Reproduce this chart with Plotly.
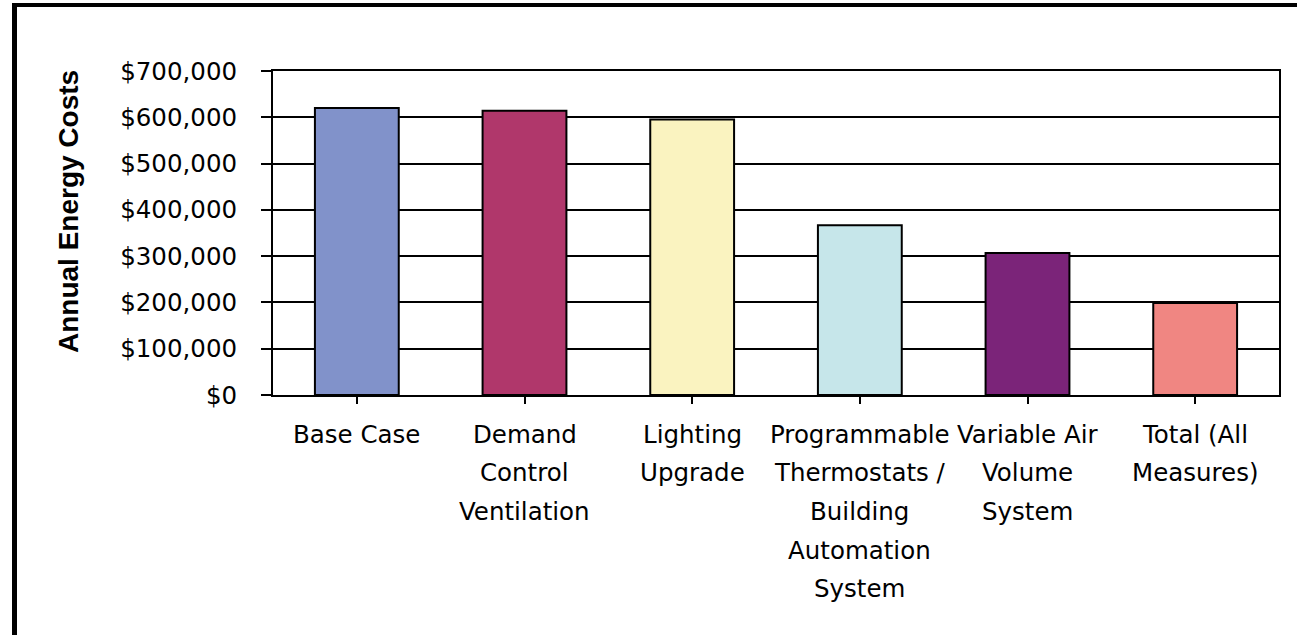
import plotly.graph_objects as go

categories = [
    "Base Case",
    "Demand<br>Control<br>Ventilation",
    "Lighting<br>Upgrade",
    "Programmable<br>Thermostats /<br>Building<br>Automation<br>System",
    "Variable Air<br>Volume<br>System",
    "Total (All<br>Measures)",
]
costs = [620000, 614000, 595000, 367000, 307000, 199000]
bar_colors = ["#8192CA", "#B0376B", "#FAF3C0", "#C6E6EA", "#7B2479", "#F08682"]
tick_values = [0, 100000, 200000, 300000, 400000, 500000, 600000, 700000]
tick_labels = ["$0", "$100,000", "$200,000", "$300,000", "$400,000", "$500,000", "$600,000", "$700,000"]
y_title = "Annual Energy Costs"

W, H = 1297, 635
ML, MR, MT, MB = 273, 18, 71, 240
PW, PH = W - ML - MR, H - MT - MB

fig = go.Figure()
fig.add_trace(go.Bar(
    x=list(range(len(categories))),
    y=costs,
    marker=dict(color=bar_colors, line=dict(color="black", width=2)),
    width=0.5,
    hoverinfo="skip",
))

# category labels as multi-line annotations (wide line spacing like the original)
line_gap = 38.7
annotations = []
for i, cat in enumerate(categories):
    for j, line in enumerate(cat.split("<br>")):
        annotations.append(dict(
            x=i, y=0, xref="x", yref="y", text=line, showarrow=False,
            xanchor="center", yanchor="middle", yshift=-39 - j * line_gap,
            font=dict(family="DejaVu Sans", size=24.5, color="black"),
        ))

def px_x(p):
    return (p - ML) / PW

def px_y(p):
    return (MT + PH - p) / PH

annotations.append(dict(
    x=px_x(68), y=px_y(212), xref="paper", yref="paper", text=y_title,
    showarrow=False, textangle=-90, xanchor="center", yanchor="middle",
    font=dict(family="Liberation Sans", size=28, color="black", weight="bold"),
))

shapes = [
    dict(type="line", xref="paper", yref="paper", x0=px_x(14.5), x1=px_x(14.5),
         y0=px_y(3), y1=px_y(H + 5), line=dict(color="black", width=5)),
    dict(type="line", xref="paper", yref="paper", x0=px_x(12), x1=px_x(W + 5),
         y0=px_y(5), y1=px_y(5), line=dict(color="black", width=4)),
]

fig.update_layout(
    width=W, height=H,
    margin=dict(l=ML, r=MR, t=MT, b=MB, autoexpand=False),
    paper_bgcolor="white", plot_bgcolor="white",
    showlegend=False,
    annotations=annotations,
    shapes=shapes,
    font=dict(family="DejaVu Sans", size=24.5, color="black"),
)
fig.update_xaxes(
    range=[-0.5, len(categories) - 0.5],
    tickvals=list(range(len(categories))),
    showticklabels=False,
    ticks="outside", tickson="boundaries", ticklen=7, tickwidth=2, tickcolor="black",
    showline=True, linecolor="black", linewidth=2, mirror=True,
    showgrid=False, zeroline=False,
)
fig.update_yaxes(
    range=[0, 700000],
    tickvals=tick_values, ticktext=tick_labels,
    ticks="outside", ticklen=10, tickwidth=2, tickcolor="black",
    ticklabelstandoff=19,
    tickfont=dict(family="DejaVu Sans", size=24.5, color="black"),
    showline=True, linecolor="black", linewidth=2, mirror=True,
    showgrid=True, gridcolor="black", gridwidth=2,
    zeroline=False,
)

fig.write_html("out.html")
